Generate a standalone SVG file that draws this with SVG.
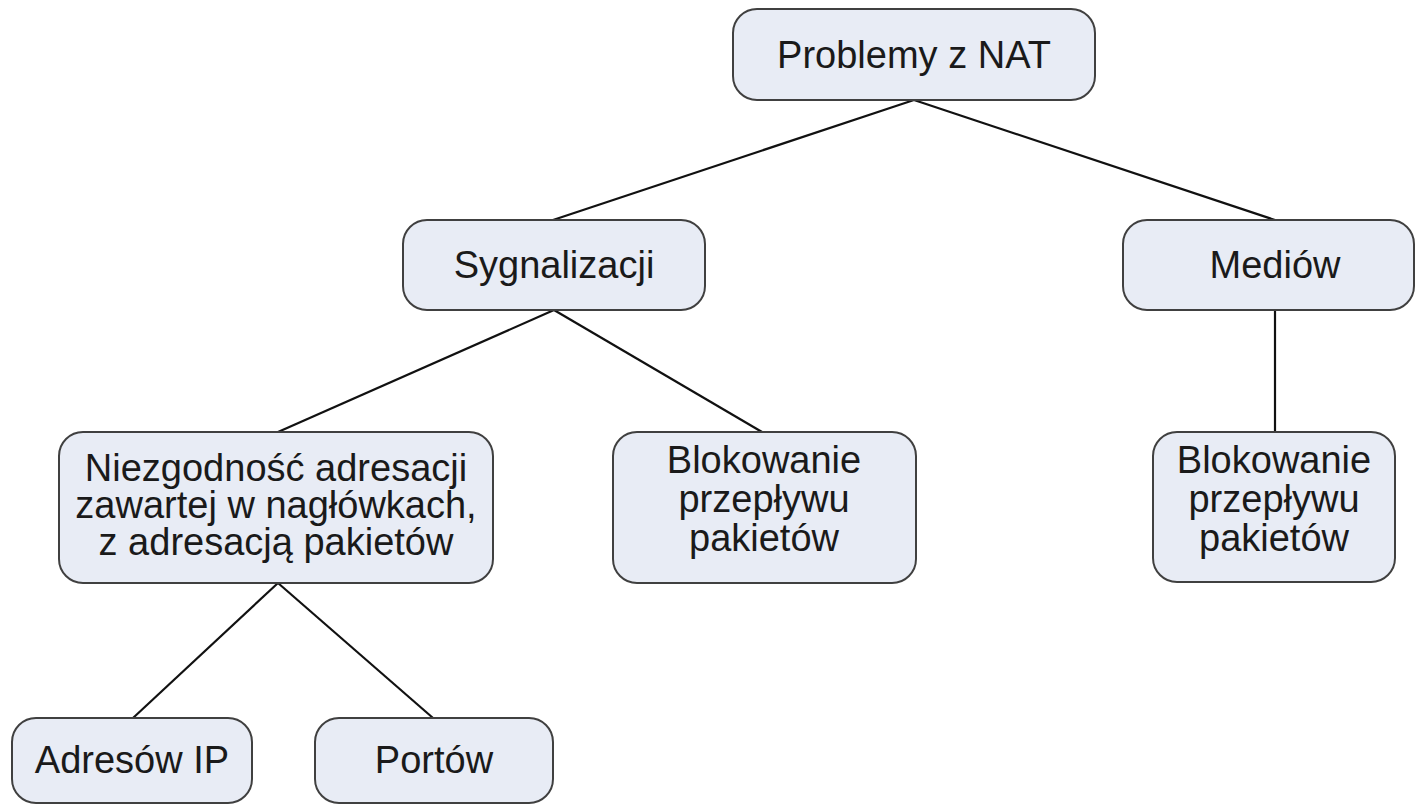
<svg xmlns="http://www.w3.org/2000/svg" width="1416" height="805" viewBox="0 0 1416 805">
<style>
.box{fill:#e8ecf5;stroke:#404040;stroke-width:2}
.t{font-family:"Liberation Sans",Arial,sans-serif;font-size:38px;fill:#1a1a1a;text-anchor:middle}
.c{stroke:#111;stroke-width:2.2;fill:none}
</style>
<rect width="1416" height="805" fill="#fff"/>
<g id="connectors">
<line class="c" x1="914" y1="100" x2="553" y2="220"/>
<line class="c" x1="914" y1="100" x2="1275" y2="220"/>
<line class="c" x1="554" y1="310" x2="278" y2="432"/>
<line class="c" x1="554" y1="310" x2="762" y2="432"/>
<line class="c" x1="1275" y1="310" x2="1275" y2="432"/>
<line class="c" x1="278" y1="583" x2="133" y2="718"/>
<line class="c" x1="278" y1="583" x2="433" y2="718"/>
</g>
<g id="root">
<rect class="box" x="733" y="9" width="362" height="91" rx="24"/>
<text class="t" x="914" y="68">Problemy z NAT</text>
</g>
<g id="sygnalizacji">
<rect class="box" x="403" y="220" width="302" height="90" rx="24"/>
<text class="t" x="554" y="278">Sygnalizacji</text>
</g>
<g id="mediow">
<rect class="box" x="1123" y="220" width="291" height="90" rx="24"/>
<text class="t" x="1275" y="278">Mediów</text>
</g>
<g id="niezgodnosc">
<rect class="box" x="59" y="432" width="434" height="151" rx="24"/>
<text class="t" x="276" y="481">Niezgodność adresacji</text>
<text class="t" x="276" y="518">zawartej w nagłówkach,</text>
<text class="t" x="276" y="555">z adresacją pakietów</text>
</g>
<g id="blokowanie1">
<rect class="box" x="613" y="432" width="303" height="151" rx="24"/>
<text class="t" x="764" y="473">Blokowanie</text>
<text class="t" x="764" y="512">przepływu</text>
<text class="t" x="764" y="551">pakietów</text>
</g>
<g id="blokowanie2">
<rect class="box" x="1153" y="432" width="242" height="150" rx="24"/>
<text class="t" x="1274" y="473">Blokowanie</text>
<text class="t" x="1274" y="512">przepływu</text>
<text class="t" x="1274" y="551">pakietów</text>
</g>
<g id="adresow">
<rect class="box" x="12" y="718" width="240" height="85" rx="24"/>
<text class="t" x="132" y="773">Adresów IP</text>
</g>
<g id="portow">
<rect class="box" x="315" y="718" width="238" height="85" rx="24"/>
<text class="t" x="434" y="773">Portów</text>
</g>
</svg>
